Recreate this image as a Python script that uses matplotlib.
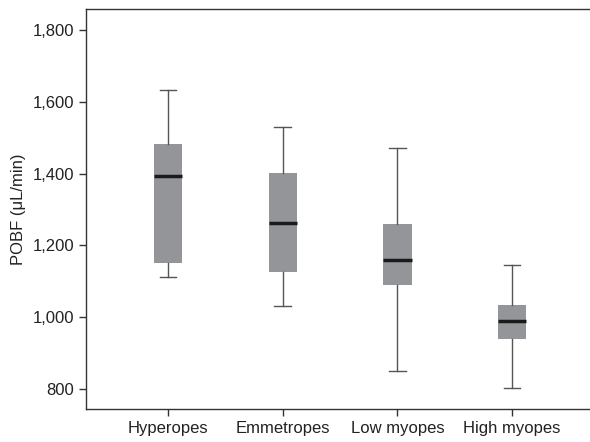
import matplotlib
matplotlib.use("Agg")
import matplotlib.pyplot as plt

plt.rcParams['font.family'] = ['Liberation Sans', 'DejaVu Sans']

groups = ["Hyperopes", "Emmetropes", "Low myopes", "High myopes"]
whislo = [1111, 1032, 852, 803]
q1 = [1152, 1127, 1091, 941]
med = [1394, 1263, 1160, 989]
q3 = [1482, 1401, 1259, 1035]
whishi = [1632, 1531, 1470, 1146]

stats = []
for g, lo, a, m, b, hi in zip(groups, whislo, q1, med, q3, whishi):
    stats.append({"label": g, "whislo": lo, "q1": a, "med": m, "q3": b, "whishi": hi, "fliers": []})

fig = plt.figure(figsize=(5.9, 4.42), dpi=100)
ax = fig.add_axes([0.1458, 0.0747, 0.8542, 0.9049])

ax.bxp(stats, positions=[1, 2, 3, 4], widths=0.247, patch_artist=True, showfliers=False,
       boxprops=dict(facecolor="#949599", edgecolor="#949599", linewidth=0),
       medianprops=dict(color="#1a1a1a", linewidth=2.5),
       whiskerprops=dict(color="#555555", linewidth=1),
       capprops=dict(color="#555555", linewidth=1),
       capwidths=0.145)

ax.set_xlim(0.285, 4.68)
ax.set_ylim(745, 1858)
ax.set_yticks([800, 1000, 1200, 1400, 1600, 1800])
ax.set_yticklabels(["800", "1,000", "1,200", "1,400", "1,600", "1,800"])
ax.set_ylabel("POBF (μL/min)", fontsize=12, color="#222222", labelpad=5)

for s in ["left", "top", "bottom"]:
    ax.spines[s].set_color("#333333")
    ax.spines[s].set_linewidth(1)
ax.spines["right"].set_visible(False)
ax.tick_params(axis="both", labelsize=12, labelcolor="#222222", color="#333333", length=5, width=1)

fig.savefig("out.png", dpi=100)
